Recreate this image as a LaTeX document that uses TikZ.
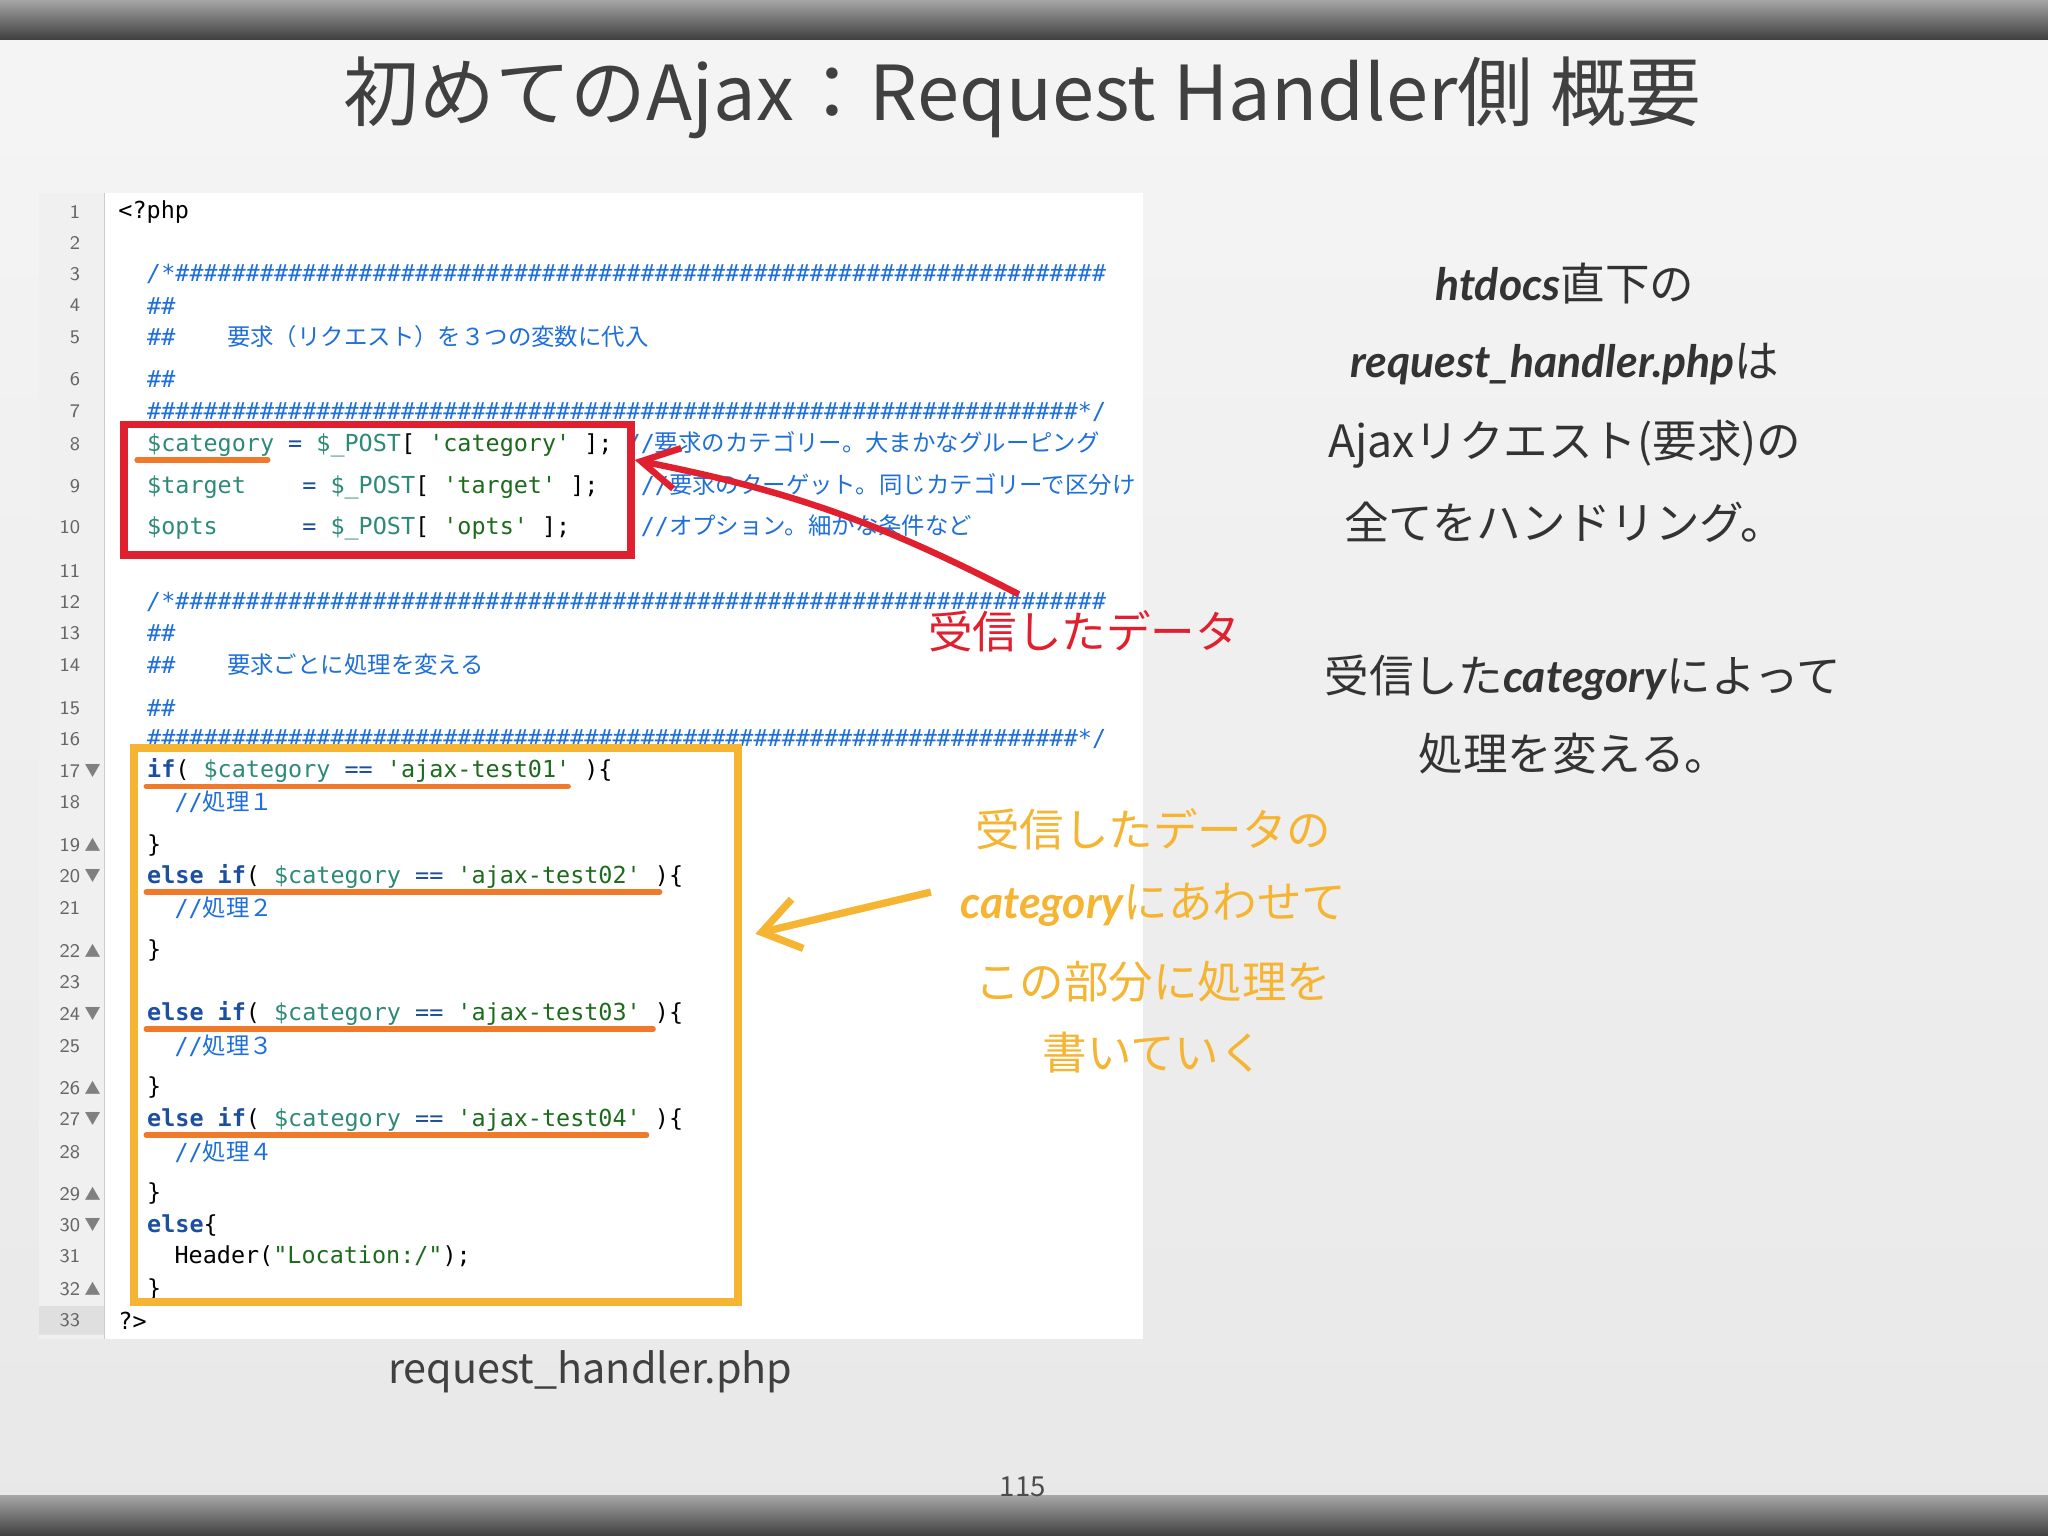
\documentclass[tikz,border=0pt]{standalone}
\usepackage{fontspec}
\setmainfont{Noto Sans CJK JP}
\setmonofont{DejaVu Sans Mono}
\newfontfamily\cjk{Noto Sans CJK JP}
\newfontfamily\lato{Lato}
\usetikzlibrary{arrows.meta}
\definecolor{cmt}{HTML}{1E6FD9}
\definecolor{var}{HTML}{2E8A78}
\definecolor{str}{HTML}{1C6B1C}
\definecolor{kw}{HTML}{1D4FA0}
\definecolor{rd}{HTML}{E0202E}
\definecolor{og}{HTML}{F5B533}
\definecolor{ul}{HTML}{F07A2A}
\newcommand\hx{\#\#\#\#\#\#\#\#\#\#}
\newcommand\hrow{\hx\hx\hx\hx\hx\hx}
\tikzset{
 code/.style={anchor=west,font=\ttfamily\fontsize{5.1}{6}\selectfont,inner sep=0pt},
 lno/.style={anchor=east,font=\sffamily\fontsize{4.2}{5}\selectfont,text=gray!80!black,inner sep=0pt},
 jt/.style={font=\fontsize{9.7}{11}\selectfont,text=black!80},
 ogt/.style={font=\fontsize{9.7}{11}\selectfont,text=og},
}
\begin{document}
\begin{tikzpicture}[x=0.01cm,y=-0.01cm]
\useasboundingbox (0,0) rectangle (1568,1176);
\shade[top color=white!92!gray, bottom color=gray!18] (0,0) rectangle (1568,1176);
\shade[top color=gray!70,bottom color=black!75] (0,0) rectangle (1568,30);
\shade[top color=gray!70,bottom color=black!75] (0,1145) rectangle (1568,1176);
\node[font=\fontsize{16.5}{18}\selectfont,text=black!75] (title) at (783,75) {初めてのAjax：Request Handler側 概要};
% code panel
\fill[white] (30,148) rectangle (875,1025);
\fill[gray!12] (30,148) rectangle (80,1025);
\draw[gray!40] (80,148) -- (80,1025);
\fill[gray!25] (30,1000) rectangle (80,1022);
\foreach \n/\y in {1/162,2/186,3/210,4/234,5/258,6/290,7/315,8/340,9/372,10/404,11/437,12/461,13/485,14/509,15/542,16/566,17/590,18/614,19/647,20/671,21/695,22/728,23/752,24/776,25/801,26/833,27/857,28/882,29/914,30/938,31/962,32/987,33/1011}
  \node[lno] at (62,\y) {\n};
\foreach \y in {590,671,776,857,938} \node[font=\fontsize{3.5}{4}\selectfont,text=gray] at (71,\y) {▼};
\foreach \y in {647,728,833,914,987} \node[font=\fontsize{3.5}{4}\selectfont,text=gray] at (71,\y) {▲};
\node[code] at (90,162) {<?php};
\node[code,text=cmt] at (112,210) {\itshape /*\hrow\#\#\#\#\#\#};
\node[code,text=cmt] at (112,234) {\#\#};
\node[code,text=cmt] at (112,258) {\#\#\quad\ \ {\cjk 要求（リクエスト）を３つの変数に代入}};
\node[code,text=cmt] at (112,290) {\#\#};
\node[code,text=cmt] at (112,315) {\hrow\#\#\#\#\#\#*/};
\node[code] at (112,340) {\textcolor{var}{\$category} \textcolor{kw}{=} \textcolor{var}{\$\_POST}[ \textcolor{str}{'category'} ]; \textcolor{cmt}{//{\cjk 要求のカテゴリー。大まかなグルーピング}}};
\node[code] at (112,372) {\textcolor{var}{\$target}\ \ \ \ \textcolor{kw}{=} \textcolor{var}{\$\_POST}[ \textcolor{str}{'target'} ];\ \ \ \textcolor{cmt}{//{\cjk 要求のターゲット。同じカテゴリーで区分け}}};
\node[code] at (112,404) {\textcolor{var}{\$opts}\ \ \ \ \ \ \textcolor{kw}{=} \textcolor{var}{\$\_POST}[ \textcolor{str}{'opts'} ];\ \ \ \ \ \textcolor{cmt}{//{\cjk オプション。細かな条件など}}};
\node[code,text=cmt] at (112,461) {\itshape /*\hrow\#\#\#\#\#\#};
\node[code,text=cmt] at (112,485) {\#\#};
\node[code,text=cmt] at (112,509) {\#\#\quad\ \ {\cjk 要求ごとに処理を変える}};
\node[code,text=cmt] at (112,542) {\#\#};
\node[code,text=cmt] at (112,566) {\hrow\#\#\#\#\#\#*/};
\foreach \y/\k/\t in {590//01,671/else /02,776/else /03,857/else /04}
  \node[code] at (112,\y) {\textcolor{kw}{\bfseries \k if}( \textcolor{var}{\$category} \textcolor{kw}{==} \textcolor{str}{'ajax-test\t'} )\{};
\foreach \y/\t in {614/１,695/２,801/３,882/４}
  \node[code,text=cmt] at (133,\y) {//{\cjk 処理\t}};
\foreach \y in {647,728,833,914,987} \node[code] at (112,\y) {\}};
\node[code] at (112,938) {\textcolor{kw}{\bfseries else}\{};
\node[code] at (133,962) {Header(\textcolor{str}{"Location:/"});};
\node[code] at (90,1011) {?>};
% underlines
\foreach \xa/\xb/\y in {105/205/352,112/435/602,112/505/683,112/500/788,112/495/869}
  \draw[ul,line width=1.2pt,line cap=round] (\xa,\y) -- (\xb,\y);
% boxes
\node[draw=rd,line width=1.6pt,minimum width=3.88cm,minimum height=1cm,inner sep=0pt] (rbox) at (289,375) {};
\node[draw=og,line width=1.8pt,minimum width=4.62cm,minimum height=4.24cm,inner sep=0pt] (obox) at (334,785) {};
% labels
\node[font=\fontsize{9.7}{11}\selectfont,text=rd] (rlab) at (830,483) {受信したデータ};
\coordinate (rs) at (780,455);
\draw[rd,line width=1.4pt,-{Straight Barb[length=8pt,width=9pt]}] (rs) to[bend right=8] ([yshift=-0.3cm]rbox.north east);
\node[ogt] (o1) at (883,635) {受信したデータの};
\node[ogt] (o2) at (883,693) {{\lato\bfseries\itshape category}にあわせて};
\node[ogt] (o3) at (883,752) {この部分に処理を};
\node[ogt] (o4) at (883,806) {書いていく};
\draw[draw=og,line width=1.6pt,-{Straight Barb[length=8pt,width=11pt]}] ([xshift=-0.1cm,yshift=0.1cm]o2.west) -- ([xshift=0.1cm,yshift=0.7cm]obox.east);
% right text
\node[jt] at (1198,217) {{\lato\bfseries\itshape htdocs}直下の};
\node[jt] at (1198,279) {{\lato\bfseries\itshape request\_handler.php}は};
\node[jt] at (1198,340) {Ajaxリクエスト(要求)の};
\node[jt] at (1198,400) {全てをハンドリング。};
\node[jt] at (1212,519) {受信した{\lato\bfseries\itshape category}によって};
\node[jt] at (1205,577) {処理を変える。};
\node[font=\fontsize{9}{10}\selectfont,text=black!75] (cap) at (452,1050) {request\_handler.php};
\node[font=\fontsize{6}{7}\selectfont,text=black!70] (pg) at (783,1138) {115};
\end{tikzpicture}
\end{document}
